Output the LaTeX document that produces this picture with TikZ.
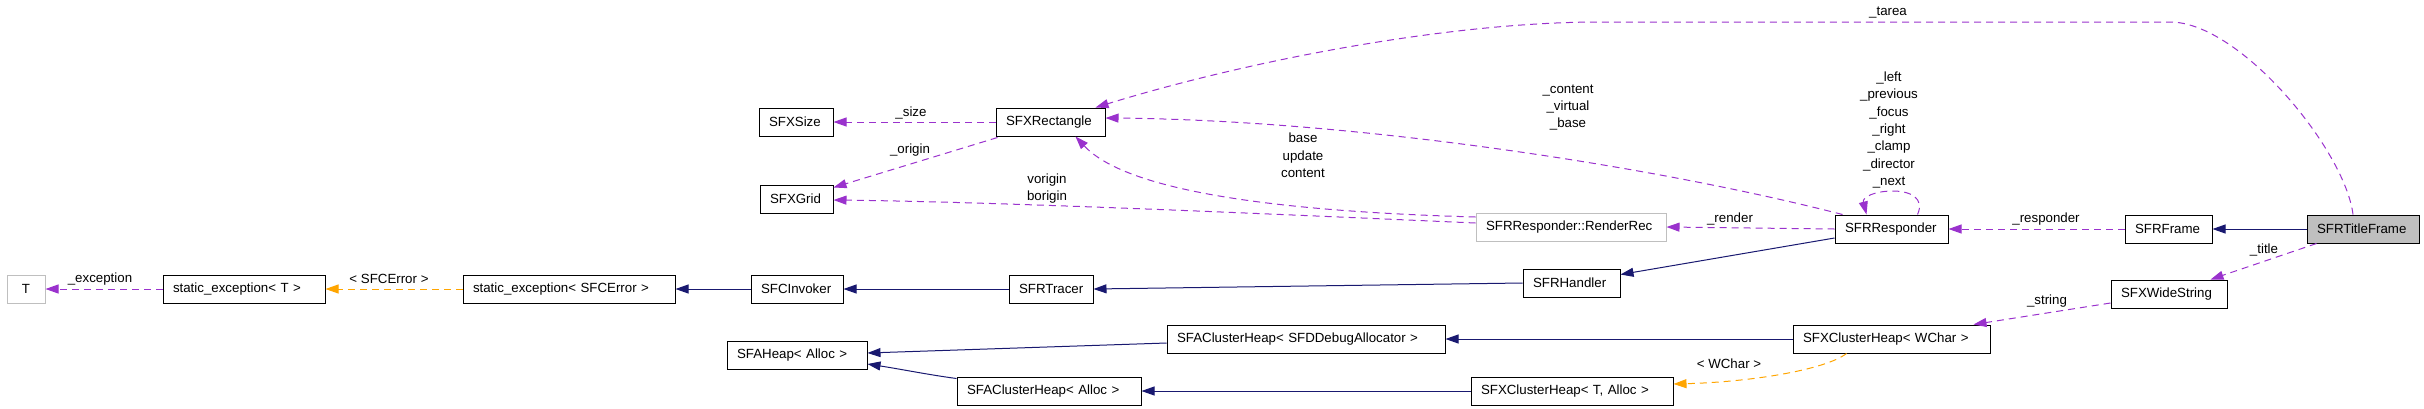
\documentclass[tikz,border=0pt]{standalone}
\usepackage{fontspec}
\setmainfont{Liberation Sans}
\usetikzlibrary{arrows.meta,calc}
\definecolor{usecol}{HTML}{9A32CD}
\definecolor{inhcol}{HTML}{191970}
\definecolor{tplcol}{HTML}{FFA500}
\definecolor{gry}{HTML}{BFBFBF}
\begin{document}
\begin{tikzpicture}[x=1pt,y=-1pt,
  every node/.style={font=\fontsize{13.3}{17.3}\selectfont},
  cls/.style={draw=black,line width=1pt,minimum height=28pt,inner ysep=0pt,inner xsep=10pt,align=left,anchor=center},
  ext/.style={draw=gry,line width=1pt,minimum height=28pt,inner sep=0pt,anchor=center},
  lbl/.style={inner sep=0pt,align=center},
  tipA/.style={-{Triangle[length=13pt,width=9pt]}},
  inh/.style={draw=inhcol,line width=1pt,tipA},
  use/.style={draw=usecol,line width=1pt,dash pattern=on 7pt off 5pt,tipA},
  tpl/.style={draw=tplcol,line width=1pt,dash pattern=on 7pt off 5pt,tipA}
]
\useasboundingbox (0,0) rectangle (2424,408);

% classes
\node[ext,minimum width=38pt] (T) at (26,289) {T};
\node[cls,text width=142pt] (seT) at (244,289) {static\_exception< T >};
\node[cls,text width=192pt] (seSFC) at (569,289) {static\_exception< SFCError >};
\node[cls,text width=72pt] (inv) at (797,289) {SFCInvoker};
\node[cls,text width=64pt] (tracer) at (1051,289) {SFRTracer};
\node[cls,text width=77pt] (handler) at (1571.5,283) {SFRHandler};
\node[cls,text width=54pt] (size) at (796,122) {SFXSize};
\node[cls,text width=89pt] (rect) at (1050.5,122) {SFXRectangle};
\node[cls,text width=53pt] (grid) at (796.5,199) {SFXGrid};
\node[ext,text width=170pt,inner xsep=10pt,align=left] (rrec) at (1571,227) {SFRResponder::RenderRec};
\node[cls,text width=93pt] (resp) at (1891.5,229) {SFRResponder};
\node[cls,text width=67pt] (frame) at (2168.5,229) {SFRFrame};
\node[cls,fill=gry,text width=92pt] (title) at (2363,229) {SFRTitleFrame};
\node[cls,text width=96pt] (wstr) at (2169,294) {SFXWideString};
\node[cls,text width=177pt] (chw) at (1891.5,339) {SFXClusterHeap< WChar >};
\node[cls,text width=258pt] (chsfd) at (1306,339) {SFAClusterHeap< SFDDebugAllocator >};
\node[cls,text width=120pt] (heap) at (797,355) {SFAHeap< Alloc >};
\node[cls,text width=164pt] (cha) at (1049,391) {SFAClusterHeap< Alloc >};
\node[cls,text width=182pt] (chta) at (1572,391) {SFXClusterHeap< T, Alloc >};

% connectors
\draw[use] (seT.west) -- (T.east);
\draw[tpl] (seSFC.west) -- (seT.east);
\draw[inh] (inv.west) -- (seSFC.east);
\draw[inh] (tracer.west) -- (inv.east);
\draw[inh] (handler.west) -- (tracer.east);
\draw[inh] ($(resp.west)+(0,9)$) -- ($(handler.north east)+(0,6)$);
\draw[use] (rect.west) -- (size.east);
\draw[use] ($(rect.south west)+(2,1)$) -- ($(grid.north east)+(0,3)$);
\draw[use] ($(rrec.west)+(0,-4)$) .. controls (1250,213) and (1000,202) .. ($(grid.east)+(0,1)$);
\draw[use] ($(rrec.west)+(0,-10)$) .. controls (1300,212) and (1130,195) .. ($(rect.south)+(25,0)$);
\draw[use] ($(resp.north west)+(8,0)$) .. controls (1650,165) and (1350,120) .. ($(rect.east)+(0,-4)$);
\draw[use] ($(title.north)+(-10,0)$) .. controls (2345,150) and (2240,22) .. (2170,22) -- (1600,22) .. controls (1450,22) and (1250,60) .. ($(rect.north)+(45,0)$);
\draw[use] (resp.west) -- (rrec.east);
\draw[use] ($(resp.north)+(26,0)$) .. controls (1925,198) and (1910,191) .. (1893,191) .. controls (1875,191) and (1862,197) .. ($(resp.north)+(-25,0)$);
\draw[use] (frame.west) -- (resp.east);
\draw[inh] (title.west) -- (frame.east);
\draw[use] ($(title.south west)+(10,0)$) -- ($(wstr.north east)+(-17,0)$);
\draw[use] ($(wstr.west)+(0,9)$) -- ($(chw.north east)+(-17,0)$);
\draw[inh] (chw.west) -- (chsfd.east);
\draw[tpl] ($(chw.south west)+(54,0)$) .. controls (1825,370) and (1750,382) .. ($(chta.east)+(0,-7)$);
\draw[inh] (chta.west) -- (cha.east);
\draw[inh] ($(chsfd.west)+(0,4)$) -- ($(heap.east)+(0,-2)$);
\draw[inh] ($(cha.north west)+(0,2)$) .. controls (930,375) and (900,369) .. ($(heap.east)+(0,9)$);

% labels
\node[lbl] (lexc) at (100,279) {\_exception};
\node[lbl] (lsfce) at (389,279) {< SFCError >};
\node[lbl] (lsize) at (911,113) {\_size};
\node[lbl] (lorigin) at (910,150) {\_origin};
\node[lbl] (lvb) at (1047,188.5) {vorigin\\borigin};
\node[lbl] (lbuc) at (1303,155.5) {base\\update\\content};
\node[lbl] (lcvb) at (1568,107.5) {\_content\\\_virtual\\\_base};
\node[lbl] (ltarea) at (1888,13) {\_tarea};
\node[lbl] (lloop) at (1889,130) {\_left\\\_previous\\\_focus\\\_right\\\_clamp\\\_director\\\_next};
\node[lbl] (lrender) at (1730,219) {\_render};
\node[lbl] (lresp) at (2046,219) {\_responder};
\node[lbl] (ltitle) at (2264,250) {\_title};
\node[lbl] (lstring) at (2047,301) {\_string};
\node[lbl] (lwchar) at (1729,364) {< WChar >};
\end{tikzpicture}
\end{document}
